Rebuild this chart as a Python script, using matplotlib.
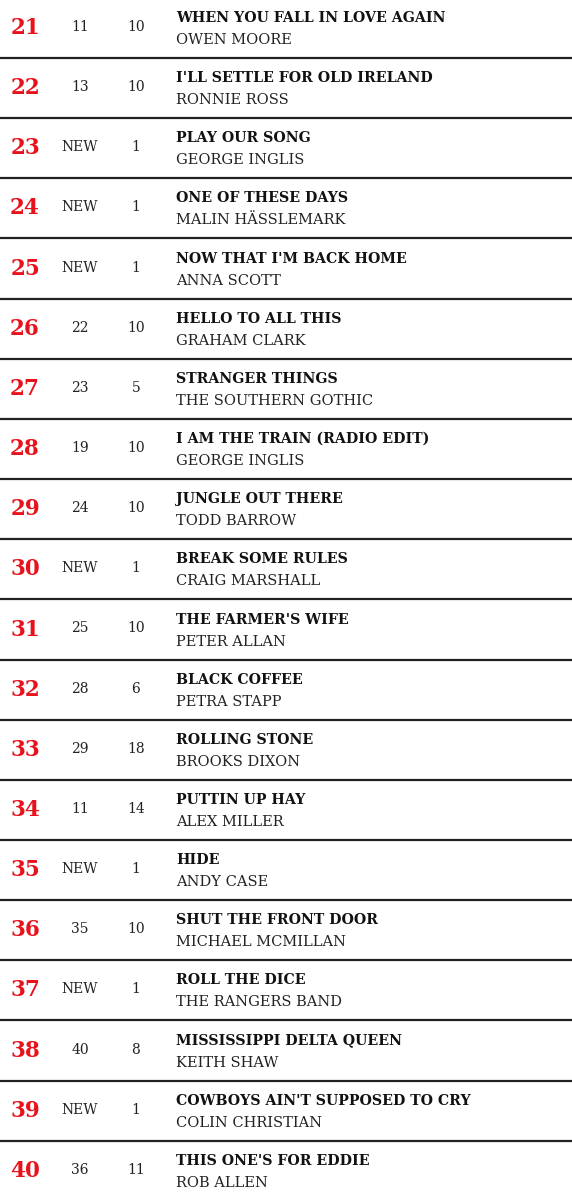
import matplotlib.pyplot as plt

ranks = list(range(21, 41))
last_week = ["11", "13", "NEW", "NEW", "NEW", "22", "23", "19", "24", "NEW",
             "25", "28", "29", "11", "NEW", "35", "NEW", "40", "NEW", "36"]
weeks = [10, 10, 1, 1, 1, 10, 5, 10, 10, 1, 10, 6, 18, 14, 1, 10, 1, 8, 1, 11]
titles = ["WHEN YOU FALL IN LOVE AGAIN", "I'LL SETTLE FOR OLD IRELAND", "PLAY OUR SONG",
          "ONE OF THESE DAYS", "NOW THAT I'M BACK HOME", "HELLO TO ALL THIS",
          "STRANGER THINGS", "I AM THE TRAIN (RADIO EDIT)", "JUNGLE OUT THERE",
          "BREAK SOME RULES", "THE FARMER'S WIFE", "BLACK COFFEE", "ROLLING STONE",
          "PUTTIN UP HAY", "HIDE", "SHUT THE FRONT DOOR", "ROLL THE DICE",
          "MISSISSIPPI DELTA QUEEN", "COWBOYS AIN'T SUPPOSED TO CRY", "THIS ONE'S FOR EDDIE"]
artists = ["OWEN MOORE", "RONNIE ROSS", "GEORGE INGLIS", "MALIN HÄSSLEMARK", "ANNA SCOTT",
           "GRAHAM CLARK", "THE SOUTHERN GOTHIC", "GEORGE INGLIS", "TODD BARROW",
           "CRAIG MARSHALL", "PETER ALLAN", "PETRA STAPP", "BROOKS DIXON", "ALEX MILLER",
           "ANDY CASE", "MICHAEL MCMILLAN", "THE RANGERS BAND", "KEITH SHAW",
           "COLIN CHRISTIAN", "ROB ALLEN"]

fig = plt.figure(figsize=(5.72, 12), dpi=100)
ax = fig.add_axes([0, 0, 1, 1])
ax.set_xlim(0, 572)
ax.set_ylim(1200, 0)
ax.axis("off")

row_h = 60.15
serif = "DejaVu Serif"
for i in range(len(ranks)):
    y = 27 + i * row_h
    ax.text(25, y + 1, str(ranks[i]), color="#e8121c", fontsize=15.5, fontweight="bold",
            family=serif, ha="center", va="center")
    ax.text(80, y, last_week[i], color="#222222", fontsize=10, family=serif,
            ha="center", va="center")
    ax.text(136, y, str(weeks[i]), color="#222222", fontsize=10, family=serif,
            ha="center", va="center")
    ax.text(176, y - 9, titles[i], color="#111111", fontsize=10.2, fontweight="bold",
            family=serif, ha="left", va="center")
    ax.text(176, y + 13, artists[i], color="#222222", fontsize=10.5, family=serif,
            ha="left", va="center")
    if i < len(ranks) - 1:
        ax.axhline(58 + i * row_h, color="#222222", lw=1.6)

fig.savefig("out.png", dpi=100)
